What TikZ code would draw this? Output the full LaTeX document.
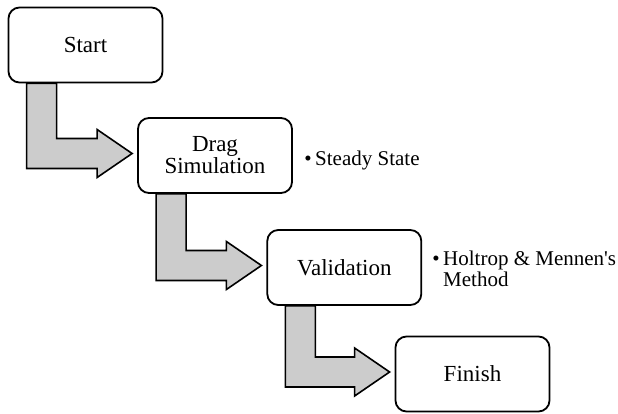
\documentclass[tikz,border=0pt]{standalone}
\usepackage{fontspec}
\setmainfont{Liberation Serif}[Ligatures=TeXOff]
\usetikzlibrary{calc,backgrounds}

% bent block arrow from the bottom of one step to the left of the next
\newcommand{\bentarrow}[2]{%
  \draw[flow] let \p1=(#1.south west), \p2=([xshift=-5pt,yshift=2pt]#2.west) in
    (\x1+19pt,\y1) -- (\x1+19pt,\y2-15pt) -- (\x2-35pt,\y2-15pt) -- (\x2-35pt,\y2-24pt)
    -- (\x2,\y2) -- (\x2-35pt,\y2+24pt) -- (\x2-35pt,\y2+15pt) -- (\x1+49pt,\y2+15pt)
    -- (\x1+49pt,\y1) -- cycle;}

\begin{document}
\begin{tikzpicture}[
  x=1pt, y=1pt,
  every node/.style={inner sep=0pt},
  stepbox/.style={draw, line width=1.8pt, rounded corners=11pt, fill=white,
    minimum width=154pt, minimum height=75pt, align=center,
    font=\fontsize{23}{22}\selectfont},
  note/.style={anchor=base west, align=left, font=\fontsize{21}{21}\selectfont},
  flow/.style={draw, line width=1.6pt, fill=gray!40, line join=miter}
]
\useasboundingbox (0,0) rectangle (618,413);

% Steps
\node[stepbox] (start)  at (85.5,368)   {Start};
\node[stepbox] (drag)   at (215,257.5)  {Drag\\Simulation};
\node[stepbox] (valid)  at (344.3,145.5) {Validation};
\node[stepbox] (finish) at (472.5,39)   {Finish};

% Notes
\node[note] (steady)  at (315,247.5) {Steady State};
\node[note, anchor=base east] (dotA) at ([xshift=-3pt]steady.base west) {\textbullet};
\node[note] (holtrop) at (443,127) {Holtrop \& Mennen's\\Method};
\node[note, anchor=base east] (dotB) at (440,148) {\textbullet};

% Arrows
\begin{scope}[on background layer]
  \bentarrow{start}{drag}
  \bentarrow{drag}{valid}
  \bentarrow{valid}{finish}
\end{scope}

\end{tikzpicture}
\end{document}
